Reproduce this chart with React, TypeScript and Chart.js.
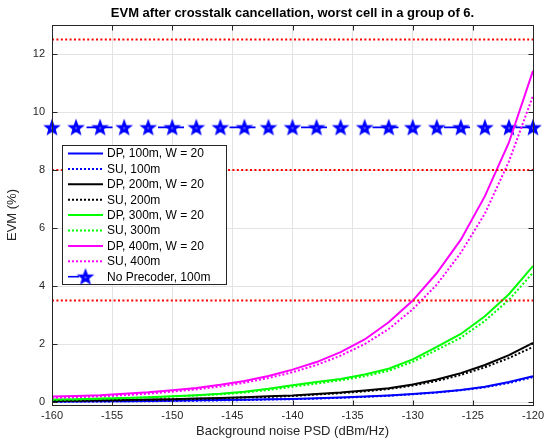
import React, { useEffect, useRef } from "react";
import { Chart, registerables } from "chart.js";

Chart.register(...registerables);

// ---- data ----
const noisePsd = [-160, -158, -156, -154, -152, -150, -148, -146, -144, -142, -140, -138, -136, -134, -132, -130, -128, -126, -124, -122, -120];

const dp100 = [0.02, 0.02, 0.03, 0.03, 0.04, 0.05, 0.06, 0.07, 0.08, 0.1, 0.11, 0.13, 0.16, 0.19, 0.23, 0.28, 0.34, 0.42, 0.53, 0.69, 0.89];
const su100 = [0.01, 0.02, 0.02, 0.03, 0.03, 0.04, 0.05, 0.06, 0.07, 0.09, 0.1, 0.12, 0.15, 0.18, 0.22, 0.27, 0.33, 0.41, 0.51, 0.66, 0.86];
const dp200 = [0.05, 0.05, 0.06, 0.07, 0.09, 0.1, 0.12, 0.14, 0.17, 0.2, 0.23, 0.28, 0.33, 0.4, 0.48, 0.61, 0.78, 1.0, 1.28, 1.62, 2.04];
const su200 = [0.04, 0.05, 0.05, 0.06, 0.08, 0.09, 0.11, 0.13, 0.16, 0.18, 0.21, 0.26, 0.31, 0.37, 0.45, 0.57, 0.73, 0.94, 1.2, 1.52, 1.9];
const dp300 = [0.09, 0.1, 0.12, 0.14, 0.17, 0.2, 0.24, 0.29, 0.36, 0.46, 0.58, 0.69, 0.8, 0.95, 1.15, 1.47, 1.9, 2.35, 2.96, 3.72, 4.69];
const su300 = [0.08, 0.09, 0.11, 0.13, 0.16, 0.19, 0.23, 0.27, 0.33, 0.42, 0.53, 0.64, 0.75, 0.89, 1.08, 1.39, 1.8, 2.22, 2.8, 3.53, 4.46];
const dp400 = [0.19, 0.21, 0.24, 0.29, 0.34, 0.41, 0.49, 0.6, 0.73, 0.9, 1.12, 1.38, 1.72, 2.16, 2.75, 3.5, 4.45, 5.6, 7.1, 8.95, 11.42];
const su400 = [0.15, 0.17, 0.2, 0.24, 0.29, 0.36, 0.44, 0.54, 0.67, 0.83, 1.03, 1.28, 1.6, 2.0, 2.52, 3.2, 4.05, 5.15, 6.5, 8.3, 10.56];
const noPrecoder100 = [9.47, 9.47, 9.47, 9.47, 9.47, 9.47, 9.47, 9.47, 9.47, 9.47, 9.47, 9.47, 9.47, 9.47, 9.47, 9.47, 9.47, 9.47, 9.47, 9.47, 9.47];

const thresholdLevels = [12.5, 8, 3.5];
const thresholdSpan = [-160, -120];

const xTickValues = [-160, -155, -150, -145, -140, -135, -130, -125, -120];
const yTickValues = [0, 2, 4, 6, 8, 10, 12];

const titleText = "EVM after crosstalk cancellation, worst cell in a group of 6.";
const xTitle = "Background noise PSD (dBm/Hz)";
const yTitle = "EVM (%)";

const FONT = "'Liberation Sans', Arial, Helvetica, sans-serif";
const AXIS_COLOR = "#262626";
const GRID_COLOR = "#e3e3e3";

function makeStar(): HTMLCanvasElement {
  const c = document.createElement("canvas");
  const s = 20;
  c.width = s;
  c.height = s;
  const g = c.getContext("2d")!;
  const R = 7.0;
  const r = R * 0.42;
  const cx = s / 2;
  const cy = s / 2 + 0.6;
  g.beginPath();
  for (let i = 0; i < 10; i++) {
    const a = -Math.PI / 2 + (i * Math.PI) / 5;
    const rad = i % 2 === 0 ? R : r;
    const px = cx + rad * Math.cos(a);
    const py = cy + rad * Math.sin(a);
    if (i === 0) g.moveTo(px, py);
    else g.lineTo(px, py);
  }
  g.closePath();
  g.fillStyle = "#0000ff";
  g.fill();
  g.strokeStyle = "#0000ff";
  g.lineWidth = 1.6;
  g.lineJoin = "miter";
  g.stroke();
  g.beginPath();
  g.arc(cx, cy, 0.9, 0, Math.PI * 2);
  g.fillStyle = "rgba(255,255,255,0.55)";
  g.fill();
  return c;
}

const pts = (ys: number[]) => noisePsd.map((x, i) => ({ x, y: ys[i] }));

export default function App() {
  const ref = useRef<HTMLCanvasElement | null>(null);

  useEffect(() => {
    if (!ref.current) return;
    const star = makeStar();

    const curve = (label: string, ys: number[], color: string, dotted: boolean, order: number) => ({
      label,
      data: pts(ys),
      borderColor: color,
      backgroundColor: color,
      borderWidth: 2,
      borderDash: dotted ? [2, 2] : [],
      pointRadius: 0,
      tension: 0,
      order,
    });

    const datasets: any[] = [
      curve("DP, 100m, W = 20", dp100, "#0000ff", false, 9),
      curve("SU, 100m", su100, "#0000ff", true, 8),
      curve("DP, 200m, W = 20", dp200, "#000000", false, 7),
      curve("SU, 200m", su200, "#000000", true, 6),
      curve("DP, 300m, W = 20", dp300, "#00ff00", false, 5),
      curve("SU, 300m", su300, "#00ff00", true, 4),
      curve("DP, 400m, W = 20", dp400, "#ff00ff", false, 3),
      curve("SU, 400m", su400, "#ff00ff", true, 2),
      {
        label: "No Precoder, 100m",
        data: pts(noPrecoder100),
        borderColor: "#0000ff",
        backgroundColor: "#0000ff",
        borderWidth: 1.6,
        borderDash: [26, 45.5],
        borderDashOffset: 37,
        pointStyle: star,
        pointRadius: 7,
        clip: false,
        order: 10,
        isStar: true,
      },
      ...thresholdLevels.map((lvl) => ({
        label: "",
        data: thresholdSpan.map((x) => ({ x, y: lvl })),
        borderColor: "#ff0000",
        borderWidth: 2,
        borderDash: [2, 2.4],
        pointRadius: 0,
        order: 1,
        noLegend: true,
      })),
    ];

    const framePlugin = {
      id: "frame",
      afterDatasetsDraw(chart: any) {
        const { ctx, chartArea: a, scales } = chart;
        ctx.save();
        ctx.strokeStyle = AXIS_COLOR;
        ctx.lineWidth = 1;
        const L = Math.round(a.left) + 0.5;
        const R = Math.round(a.right) + 0.5;
        const T = Math.round(a.top) + 0.5;
        const B = Math.round(a.bottom) + 0.5;
        ctx.strokeRect(L, T, R - L, B - T);
        const tl = 5;
        ctx.beginPath();
        for (const v of xTickValues) {
          const x = Math.round(scales.x.getPixelForValue(v)) + 0.5;
          ctx.moveTo(x, B);
          ctx.lineTo(x, B - tl);
          ctx.moveTo(x, T);
          ctx.lineTo(x, T + tl);
        }
        for (const v of yTickValues) {
          const y = Math.round(scales.y.getPixelForValue(v)) + 0.5;
          ctx.moveTo(L, y);
          ctx.lineTo(L + tl, y);
          ctx.moveTo(R, y);
          ctx.lineTo(R - tl, y);
        }
        ctx.stroke();
        ctx.restore();
      },
      afterDraw(chart: any) {
        const { ctx, chartArea: a } = chart;
        ctx.save();
        // title
        ctx.fillStyle = "#000000";
        ctx.font = `bold 13px ${FONT}`;
        ctx.textAlign = "center";
        ctx.textBaseline = "middle";
        ctx.fillText(titleText, (a.left + a.right) / 2, 13);

        // legend
        const items = chart.data.datasets.filter((d: any) => !d.noLegend);
        const bx = 62.5;
        const by = 145.5;
        const bw = 164;
        const rowH = 15.4;
        const bh = 139;
        ctx.fillStyle = "#ffffff";
        ctx.fillRect(bx, by, bw, bh);
        ctx.strokeStyle = AXIS_COLOR;
        ctx.lineWidth = 1;
        ctx.strokeRect(bx, by, bw, bh);
        items.forEach((d: any, i: number) => {
          const y = 153.5 + i * rowH;
          ctx.save();
          ctx.strokeStyle = d.borderColor;
          ctx.lineWidth = 2;
          if (d.isStar) {
            ctx.lineWidth = 1.6;
            ctx.beginPath();
            ctx.moveTo(68, y);
            ctx.lineTo(79, y);
            ctx.stroke();
            ctx.drawImage(d.pointStyle, 85.5 - d.pointStyle.width / 2, y - d.pointStyle.height / 2);
          } else {
            ctx.setLineDash(d.borderDash || []);
            ctx.beginPath();
            ctx.moveTo(68, y);
            ctx.lineTo(103, y);
            ctx.stroke();
          }
          ctx.restore();
          ctx.fillStyle = "#000000";
          ctx.font = `12px ${FONT}`;
          ctx.textAlign = "left";
          ctx.textBaseline = "middle";
          ctx.fillText(d.label, 107, y + 0.5);
        });
        ctx.restore();
      },
    };

    const chart = new Chart(ref.current, {
      type: "line",
      data: { datasets },
      options: {
        animation: false,
        responsive: false,
        maintainAspectRatio: false,
        layout: { padding: { top: 25, right: 17, left: 0, bottom: 0 } },
        plugins: {
          legend: { display: false },
          tooltip: { enabled: false },
          title: { display: false },
        },
        scales: {
          x: {
            type: "linear",
            min: -160,
            max: -120,
            afterBuildTicks: (s: any) => {
              s.ticks = xTickValues.map((v) => ({ value: v }));
            },
            afterFit: (s: any) => {
              s.height = 36;
            },
            grid: { color: GRID_COLOR, lineWidth: 1, drawTicks: false },
            border: { display: false },
            ticks: {
              color: AXIS_COLOR,
              font: { family: FONT, size: 11 },
              padding: 4,
              maxRotation: 0,
              autoSkip: false,
            },
            title: {
              display: true,
              text: xTitle,
              color: AXIS_COLOR,
              font: { family: FONT, size: 13 },
              padding: { top: 0, bottom: 2 },
            },
          },
          y: {
            type: "linear",
            min: -0.1,
            max: 13,
            afterBuildTicks: (s: any) => {
              s.ticks = yTickValues.map((v) => ({ value: v }));
            },
            afterFit: (s: any) => {
              s.width = 52;
            },
            grid: { color: GRID_COLOR, lineWidth: 1, drawTicks: false },
            border: { display: false },
            ticks: {
              color: AXIS_COLOR,
              font: { family: FONT, size: 11 },
              padding: 7,
              autoSkip: false,
            },
            title: {
              display: true,
              text: yTitle,
              color: AXIS_COLOR,
              font: { family: FONT, size: 13 },
              padding: { top: 5, bottom: 0 },
            },
          },
        },
      } as any,
      plugins: [framePlugin],
    });

    return () => chart.destroy();
  }, []);

  return (
    <div style={{ position: "fixed", left: 0, top: 0, width: 550, height: 441, background: "#ffffff" }}>
      <canvas ref={ref} width={550} height={441} style={{ width: 550, height: 441, display: "block" }} />
    </div>
  );
}
